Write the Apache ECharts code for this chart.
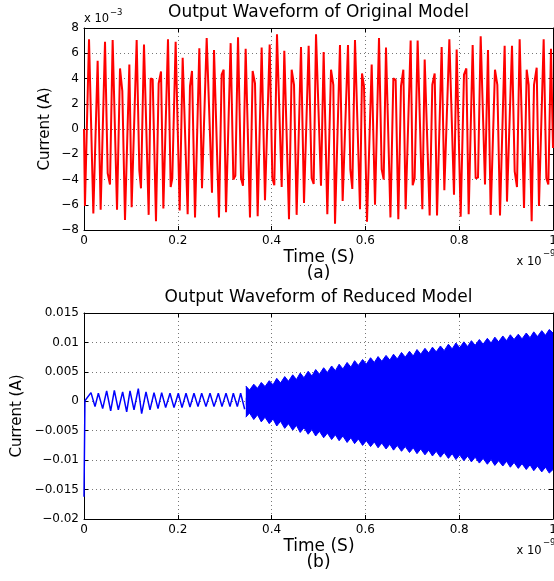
<!DOCTYPE html>
<html>
<head>
<meta charset="utf-8">
<script src="https://cdn.jsdelivr.net/npm/echarts@6/dist/echarts.min.js"></script>
<style>html,body{margin:0;padding:0;background:#fff}#c{width:554px;height:581px}</style>
</head>
<body>
<div id="c"></div>
<script>
// ---- (a) Original model: time (x1e-9 s) and current (x1e-3 A) ----
const topTime = [0,0.002,0.0107,0.0199,0.0291,0.0355,0.0448,0.0505,0.0554,0.0611,0.0704,0.0768,0.0817,0.0874,0.0967,0.1016,0.1123,0.118,0.1215,0.1279,0.1379,0.1421,0.1464,0.1535,0.1592,0.1642,0.1692,0.1791,0.1848,0.1883,0.1954,0.204,0.2104,0.221,0.226,0.2303,0.2367,0.2459,0.2516,0.2616,0.2729,0.2772,0.2878,0.2935,0.2978,0.3028,0.3127,0.3184,0.3227,0.3284,
0.3348,0.339,0.3447,0.3539,0.3596,0.3646,0.3703,0.3788,0.3859,0.3959,0.4016,0.4058,0.4115,0.4215,0.4271,0.4371,0.4428,0.4478,0.4534,0.4627,0.4691,0.479,0.4854,0.4897,0.4947,0.5053,0.511,0.5188,0.5267,0.5316,0.5352,0.5458,0.5515,0.5629,0.5679,0.5721,0.5778,0.5885,0.5928,0.597,0.6034,0.6134,0.6205,0.629,0.6347,0.639,0.6439,0.6534,
0.6596,0.6645,0.6702,0.6759,0.6809,0.6858,0.6965,0.7008,0.705,0.7114,0.7214,0.7264,0.737,0.7427,0.7477,0.7527,0.7626,0.7683,0.779,0.7889,0.7946,0.8031,0.8102,0.8152,0.8202,0.8287,0.8351,0.8401,0.8458,0.855,0.8614,0.8671,0.8763,0.8813,0.887,0.8969,0.9019,0.9126,0.9183,0.9232,0.9289,0.9382,0.9439,0.9481,0.9545,0.9595,0.9652,0.9701,0.9801,0.9858,0.99,0.9957,1.0];
const topCurrent = [0,-6.1,7.1,-6.7,5.4,-6.4,6.9,-3.5,-4.4,7.05,-6.4,4.8,3.0,-7.2,5.1,-6.2,7.05,-3.3,-4.7,6.7,-6.8,4.0,3.95,-7.3,3.6,4.55,-6.3,7.1,-4.6,-3.9,6.9,-6.45,5.65,-6.75,3.4,4.6,-7.0,6.4,-4.7,7.2,-5.05,6.25,-7.0,4.3,4.7,-6.6,6.8,-4.0,-3.7,7.26,
-3.9,-4.5,6.35,-7.0,4.6,3.6,-6.9,6.45,-5.65,6.7,-3.9,-4.45,7.5,-4.6,6.2,-7.15,4.7,3.5,-6.8,6.5,-5.85,6.6,-3.9,-4.35,7.5,-4.5,6.1,-6.75,4.7,3.5,-7.5,6.65,-5.7,6.65,-3.2,-4.75,7.05,-6.35,4.4,3.4,-7.35,5.1,-6.0,7.2,-3.2,-4.0,6.45,-7.0,
4.0,3.9,-7.15,3.4,4.7,-6.35,7.0,-4.45,-3.9,7.0,-6.35,5.5,-6.85,3.5,4.4,-6.85,6.5,-4.85,7.1,-5.2,6.3,-6.95,4.3,4.8,-6.75,6.65,-3.9,-3.85,7.35,-4.4,6.25,-6.8,4.7,3.5,-6.85,6.6,-5.75,6.6,-3.35,-4.6,7.1,-6.25,4.7,3.5,-7.3,3.5,4.85,-6.1,7.1,-3.9,-4.4,6.35,-1.5];

// ---- (b) Reduced model, early oscillation (A) ----
const lowTime = [0,0.002,0.0045,0.0149,0.0235,0.0306,0.0398,0.0483,0.0569,0.0647,0.0732,0.0824,0.091,0.0981,0.1066,0.1158,0.1229,0.1322,0.1407,0.1493,0.1578,0.1656,0.1741,0.1834,0.1919,0.2011,0.209,0.2175,0.226,0.2345,0.2431,0.2509,0.2601,0.2687,0.2772,0.2864,0.2942,0.3028,0.3113,0.3184,0.3269,0.334,0.3426];
const lowCurrent = [-0.0162,0.0001,0.0003,0.00147,-0.00091,0.00136,-0.00125,0.00176,-0.00164,0.00187,-0.00147,0.00159,-0.00181,0.00176,-0.00147,0.00215,-0.0021,0.00159,-0.00147,0.00147,-0.00125,0.00147,-0.00108,0.00136,-0.00108,0.00136,-0.00108,0.00136,-0.00096,0.00136,-0.00091,0.00136,-0.00091,0.00136,-0.00091,0.00136,-0.00091,0.00136,-0.00091,0.00136,-0.00091,0.00136,-0.00136];

// ---- (b) Reduced model, dense growing oscillation: envelope (A) ----
const bandTime = [0.345,0.353,0.362,0.370,0.378,0.386,0.395,0.403,0.411,0.419,0.428,0.436,0.445,0.453,0.461,0.469,0.478,0.486,0.494,0.502,0.511,0.519,0.528,0.536,0.544,0.552,0.561,0.569,0.577,0.585,0.594,0.602,0.611,0.619,0.627,0.635,0.644,0.652,0.660,0.668,0.677,0.685,0.694,0.702,0.710,0.718,0.727,0.735,0.743,0.751,0.760,0.768,0.777,0.785,0.793,0.801,0.810,0.818,0.826,0.834,0.843,0.851,0.860,0.868,0.876,0.884,0.893,0.901,0.909,0.917,0.926,0.934,0.943,0.951,0.959,0.967,0.976,0.984,0.992,1.000];
const bandUpper = [0.0026,0.0019,0.0029,0.0022,0.0032,0.0025,0.0035,0.0028,0.0039,0.0031,0.0042,0.0034,0.0045,0.0037,0.0048,0.0040,0.0051,0.0043,0.0054,0.0046,0.0057,0.0049,0.0060,0.0052,0.0063,0.0055,0.0066,0.0058,0.0069,0.0061,0.0071,0.0063,0.0074,0.0066,0.0076,0.0068,0.0078,0.0070,0.0080,0.0072,0.0083,0.0075,0.0085,0.0077,0.0088,0.0080,0.0090,0.0082,0.0092,0.0084,0.0094,0.0086,0.0097,0.0089,0.0099,0.0091,0.0101,0.0093,0.0103,0.0095,0.0105,0.0097,0.0107,0.0099,0.0109,0.0101,0.0111,0.0103,0.0113,0.0105,0.0114,0.0106,0.0116,0.0108,0.0118,0.0110,0.0120,0.0112,0.0122,0.0116];
const bandLower = [-0.0027,-0.0020,-0.0031,-0.0023,-0.0035,-0.0027,-0.0038,-0.0030,-0.0042,-0.0034,-0.0046,-0.0038,-0.0049,-0.0041,-0.0053,-0.0045,-0.0056,-0.0048,-0.0059,-0.0051,-0.0062,-0.0054,-0.0065,-0.0057,-0.0067,-0.0059,-0.0070,-0.0062,-0.0072,-0.0064,-0.0075,-0.0067,-0.0077,-0.0069,-0.0079,-0.0071,-0.0081,-0.0073,-0.0083,-0.0075,-0.0085,-0.0077,-0.0087,-0.0079,-0.0089,-0.0081,-0.0091,-0.0083,-0.0093,-0.0085,-0.0095,-0.0087,-0.0097,-0.0089,-0.0099,-0.0091,-0.0101,-0.0093,-0.0103,-0.0095,-0.0105,-0.0097,-0.0107,-0.0099,-0.0109,-0.0101,-0.0110,-0.0102,-0.0112,-0.0104,-0.0114,-0.0106,-0.0116,-0.0108,-0.0118,-0.0110,-0.0120,-0.0112,-0.0122,-0.0116];

// ---- axis ticks ----
const xTicks = [0, 0.2, 0.4, 0.6, 0.8, 1];
const topYTicks = [-8, -6, -4, -2, 0, 2, 4, 6, 8];
const lowYTicks = [-0.02, -0.015, -0.01, -0.005, 0, 0.005, 0.01, 0.015];

const FONT = 'DejaVu Sans';
const zip = (a, b) => a.map((v, i) => [v, b[i]]);
const fmt = (v, d) => String(parseFloat(v.toFixed(d))).replace('-', '\u2212');

function xAxisDef(grid, pos, labels) {
  return {
    type: 'value', gridIndex: grid, position: pos,
    min: xTicks[0], max: xTicks[xTicks.length - 1], interval: xTicks[1] - xTicks[0],
    axisLine: { show: true, onZero: false, lineStyle: { color: '#000', width: 1 } },
    axisTick: { show: true, inside: true, length: 4, lineStyle: { color: '#000' } },
    axisLabel: { show: labels, margin: 5, color: '#000', fontFamily: FONT, fontSize: 12,
      formatter: v => fmt(v, 2) },
    splitLine: { show: labels, lineStyle: { color: '#777', type: [1, 3], width: 1 } }
  };
}
function yAxisDef(grid, pos, ticks, labels, dec) {
  return {
    type: 'value', gridIndex: grid, position: pos,
    min: ticks[0], max: ticks[ticks.length - 1], interval: ticks[1] - ticks[0],
    axisLine: { show: true, onZero: false, lineStyle: { color: '#000', width: 1 } },
    axisTick: { show: true, inside: true, length: 4, lineStyle: { color: '#000' } },
    axisLabel: { show: labels, margin: 5, color: '#000', fontFamily: FONT, fontSize: 12,
      formatter: v => fmt(v, dec) },
    splitLine: { show: labels, lineStyle: { color: '#777', type: [1, 3], width: 1 } }
  };
}
function txt(x, y, s, size, extra) {
  return {
    type: 'text', x: x, y: y, silent: true, z: 100,
    style: Object.assign({ text: s, fill: '#000', font: size + 'px "' + FONT + '"',
      textAlign: 'center', textVerticalAlign: 'middle' }, extra || {})
  };
}

const chart = echarts.init(document.getElementById('c'), null, { renderer: 'canvas' });
chart.setOption({
  animation: false,
  backgroundColor: '#fff',
  grid: [
    { left: 84, right: 1, top: 28, height: 202, containLabel: false, outerBoundsMode: 'none' },
    { left: 84, right: 1, top: 313, height: 206, containLabel: false, outerBoundsMode: 'none' }
  ],
  xAxis: [xAxisDef(0, 'bottom', true), xAxisDef(1, 'bottom', true), xAxisDef(0, 'top', false), xAxisDef(1, 'top', false)],
  yAxis: [yAxisDef(0, 'left', topYTicks, true, 0), yAxisDef(1, 'left', lowYTicks, true, 3),
          yAxisDef(0, 'right', topYTicks, false, 0), yAxisDef(1, 'right', lowYTicks, false, 3)],
  series: [
    { type: 'line', xAxisIndex: 0, yAxisIndex: 0, data: zip(topTime, topCurrent), symbol: 'none',
      lineStyle: { color: '#ff0000', width: 2 }, itemStyle: { color: '#ff0000' } },
    { type: 'line', xAxisIndex: 1, yAxisIndex: 1, data: zip(bandTime, bandUpper), symbol: 'none',
      lineStyle: { color: '#0000ff', width: 1 }, areaStyle: { color: '#0000ff', opacity: 1, origin: -0.0006 }, itemStyle: { color: '#0000ff' } },
    { type: 'line', xAxisIndex: 1, yAxisIndex: 1, data: zip(bandTime, bandLower), symbol: 'none',
      lineStyle: { color: '#0000ff', width: 1 }, areaStyle: { color: '#0000ff', opacity: 1, origin: 0.0006 }, itemStyle: { color: '#0000ff' } },
    { type: 'line', xAxisIndex: 1, yAxisIndex: 1, data: zip(lowTime, lowCurrent), symbol: 'none',
      lineStyle: { color: '#0000ff', width: 1.5 }, itemStyle: { color: '#0000ff' } }
  ],
  graphic: [
    txt(318.5, 12.5, 'Output Waveform of Original Model', 17),
    txt(318.5, 297.8, 'Output Waveform of Reduced Model', 17),
    txt(319, 257.5, 'Time (S)', 17),
    txt(319, 546.7, 'Time (S)', 17),
    txt(318.5, 273.5, '(a)', 17),
    txt(318.5, 562.5, '(b)', 17),
    Object.assign(txt(45.5, 129, 'Current (A)', 15), { rotation: Math.PI / 2 }),
    Object.assign(txt(17.5, 416, 'Current (A)', 15), { rotation: Math.PI / 2 }),
    txt(84, 19.2, 'x 10', 11.5, { textAlign: 'left' }),
    txt(110, 12.8, '\u22123', 8.5, { textAlign: 'left' }),
    txt(516.5, 261.7, 'x 10', 11.5, { textAlign: 'left' }),
    txt(543, 254, '\u22129', 8.5, { textAlign: 'left' }),
    txt(516.5, 550.7, 'x 10', 11.5, { textAlign: 'left' }),
    txt(543, 542.7, '\u22129', 8.5, { textAlign: 'left' })
  ]
});
</script>
</body>
</html>
